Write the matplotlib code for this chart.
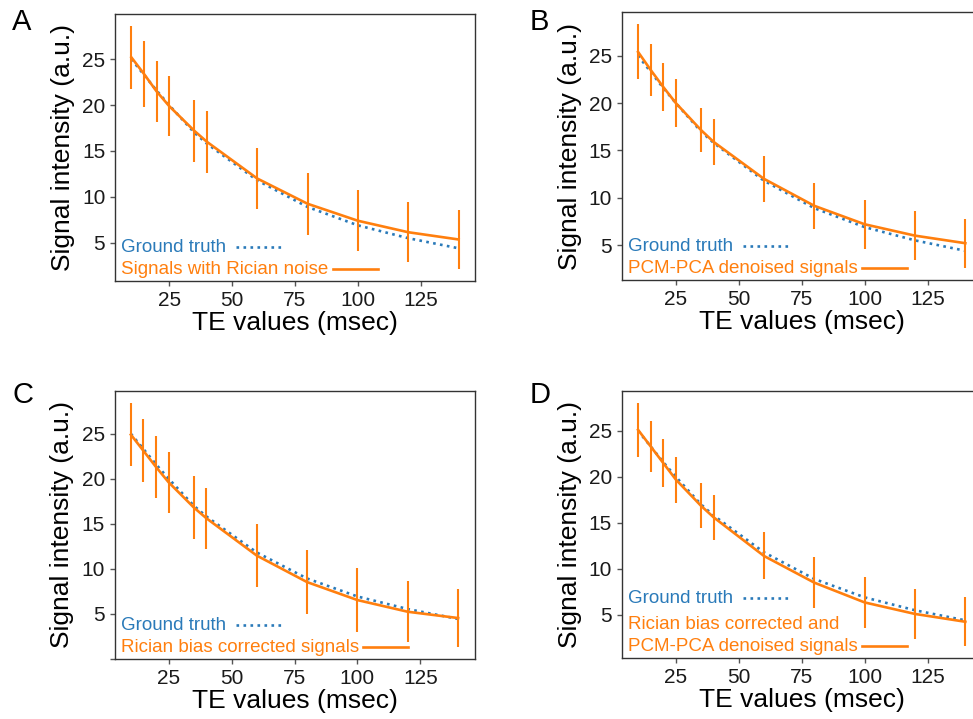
import matplotlib
matplotlib.use("Agg")
import matplotlib.pyplot as plt
from matplotlib.offsetbox import AnchoredOffsetbox, TextArea, DrawingArea, HPacker, VPacker
from matplotlib.lines import Line2D

plt.rcParams['font.family'] = ['Liberation Sans', 'DejaVu Sans']

# TE values (msec)
te = [10, 15, 20, 25, 35, 40, 60, 80, 100, 120, 140]
ground_truth = [25.0, 23.3, 21.6, 20.0, 17.0, 15.8, 11.8, 8.9, 6.9, 5.5, 4.4]

# A: signals with Rician noise
mean_a = [25.2, 23.4, 21.5, 19.9, 17.2, 16.0, 12.0, 9.25, 7.4, 6.15, 5.36]
err_a = [3.4, 3.6, 3.35, 3.3, 3.4, 3.4, 3.35, 3.35, 3.3, 3.27, 3.2]
# B: PCM-PCA denoised
mean_b = [25.4, 23.5, 21.7, 20.0, 17.15, 15.9, 12.0, 9.15, 7.2, 6.0, 5.2]
err_b = [2.9, 2.75, 2.55, 2.5, 2.35, 2.4, 2.45, 2.45, 2.6, 2.6, 2.6]
# C: Rician bias corrected
mean_c = [24.9, 23.1, 21.3, 19.6, 16.8, 15.6, 11.45, 8.5, 6.5, 5.2, 4.5]
err_c = [3.5, 3.5, 3.4, 3.4, 3.5, 3.4, 3.55, 3.6, 3.55, 3.4, 3.2]
# D: Rician bias corrected and PCM-PCA denoised
mean_d = [25.1, 23.3, 21.5, 19.7, 16.85, 15.6, 11.4, 8.5, 6.35, 5.1, 4.25]
err_d = [2.9, 2.8, 2.6, 2.5, 2.45, 2.45, 2.55, 2.75, 2.75, 2.7, 2.65]

labels = ["Signals with Rician noise",
          "PCM-PCA denoised signals",
          "Rician bias corrected signals",
          "Rician bias corrected and\nPCM-PCA denoised signals"]
letters = ["A", "B", "C", "D"]

blue = "#2a7ab9"
orange = "#ff7f0e"

W, H = 973, 719
# axes boxes in pixels: left, top, right, bottom
boxes = [(115, 14, 475, 281),
         (621.7, 12.3, 981.7, 280),
         (114.5, 391, 474.5, 659),
         (621.7, 391, 981.7, 658.3)]
letter_pos = [(12, 22), (530, 22), (12, 395), (530, 395)]
legend_sep = [2, 2, 2, 6.5]


def legend_row(label, color, ls, gap):
    txt = TextArea(label, textprops=dict(color=color, fontsize=13.5, linespacing=1.4))
    da = DrawingArea(32.5, 14, 0, 0)
    da.add_artist(Line2D([0, 32.5], [6.2, 6.2], color=color, ls=ls, lw=1.9))
    return HPacker(children=[txt, da], align="bottom", pad=0, sep=gap)


fig = plt.figure(figsize=(W / 100, H / 100), dpi=100)

series = [(mean_a, err_a), (mean_b, err_b), (mean_c, err_c), (mean_d, err_d)]
for i, (mean, err) in enumerate(series):
    l, t, r, b = boxes[i]
    ax = fig.add_axes([l / W, 1 - b / H, (r - l) / W, (b - t) / H])
    ax.plot(te, ground_truth, ls=":", color=blue, lw=1.9, zorder=2)
    ax.errorbar(te, mean, yerr=err, color=orange, lw=1.9, elinewidth=1.5,
                capsize=0, zorder=3)
    ax.set_xticks([25, 50, 75, 100, 125])
    # unlabeled tick at 0 only shows where the range reaches it (panel C)
    if ax.get_ylim()[0] < 0:
        ax.set_yticks([0, 5, 10, 15, 20, 25], ["", "5", "10", "15", "20", "25"])
    else:
        ax.set_yticks([5, 10, 15, 20, 25])
    ax.tick_params(labelsize=15, color="#555555", length=3.5, width=1,
                   labelcolor="#1a1a1a")
    for s in ax.spines.values():
        s.set_color("#333333")
        s.set_linewidth(1.0)
    ax.set_xlabel("TE values (msec)", fontsize=19, labelpad=1)
    ax.set_ylabel("Signal intensity (a.u.)", fontsize=19, labelpad=5)

    rows = [legend_row("Ground truth", blue, ":", 7),
            legend_row(labels[i], orange, "-", 3)]
    box = VPacker(children=rows, align="left", pad=0, sep=legend_sep[i])
    anchored = AnchoredOffsetbox(loc="lower left", child=box, pad=0, borderpad=0,
                                 frameon=False, bbox_to_anchor=(0.018, 0.012),
                                 bbox_transform=ax.transAxes)
    ax.add_artist(anchored)

    lx, ly = letter_pos[i]
    fig.text(lx / W, 1 - ly / H, letters[i], fontsize=21, ha="left", va="center")

fig.savefig("out.png", dpi=100)
